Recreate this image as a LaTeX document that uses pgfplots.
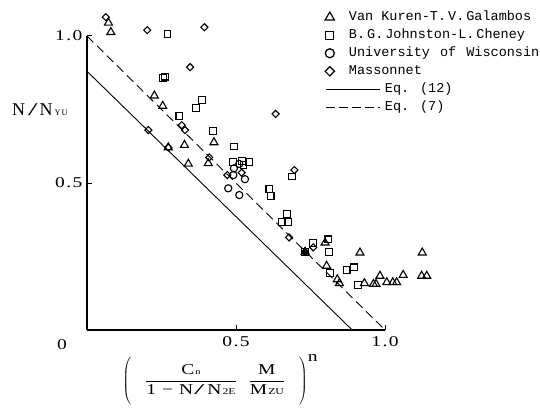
\documentclass[border=0pt]{standalone}
\usepackage{fontspec}
\usepackage{graphicx}
\setmainfont{Liberation Serif}
\newfontfamily\wideserif[FakeStretch=1.3]{Liberation Serif}
\newfontfamily\legendfont{Liberation Mono}
\usepackage{pgfplots}
\pgfplotsset{compat=1.18}
\pgfplotsset{
  legmark/.style={legend image code/.code={\path (0pt,0pt) (25pt,0pt); \draw[##1] plot coordinates {(8pt,0pt)};}},
  legline/.style={legend image code/.code={\path (0pt,0pt) (25pt,0pt); \draw[##1, overlay] (4pt,0pt) -- (58pt,0pt);}},
}
\newcommand{\dotsep}{\hspace{1.5pt}.\hspace{1.5pt}}
\newcommand{\wideslash}{\scalebox{1.9}[1]{/}}

\begin{document}
\begin{tikzpicture}
\useasboundingbox (0,0) rectangle (540pt,407pt);
\begin{axis}[
  at={(87pt,77pt)}, anchor=origin,
  x=298pt, y=294pt,
  xmin=0, xmax=1, ymin=0, ymax=1,
  axis lines=left,
  axis line style={line width=1.4pt, -},
  clip=false,
  xtick={0.5,1}, xticklabels={0\dotsep5, 1\dotsep0},
  ytick={0.5,1}, yticklabels={0\dotsep5, 1\dotsep0},
  tick align=inside, major tick length=5pt,
  tick style={line width=1pt, black},
  ticklabel style={font=\wideserif\fontsize{15}{15}\selectfont},
  xticklabel style={yshift=-3pt},
  yticklabel style={xshift=-1pt},
  every axis plot/.append style={line width=1.1pt},
  legend style={at={(axis cs:0.775,1.095)}, anchor=north west, draw=none, fill=none,
    font=\legendfont\fontsize{13.5}{13.5}\selectfont, row sep=4pt,
    nodes={inner sep=1.5pt, text height=9pt, text depth=2pt}},
  legend cell align=left,
]

% Eq. (12) and Eq. (7)
\addplot[black, line width=0.9pt, forget plot] coordinates {(0,0.88) (0.89,0)};
\addplot[black, line width=0.9pt, dash pattern=on 9pt off 5pt, forget plot] coordinates {(0,1) (1,0)};

% Van Kuren - T. V. Galambos
\addplot[only marks, mark=triangle, mark size=4.6pt, forget plot] coordinates {
 (0.072,1.045) (0.080,1.013) (0.226,0.797) (0.254,0.762) (0.273,0.621)
 (0.327,0.629) (0.426,0.638) (0.340,0.565) (0.407,0.567) (0.799,0.297)
 (0.916,0.263) (0.804,0.218) (0.840,0.172) (0.847,0.159) (0.931,0.159)
 (0.961,0.156) (0.970,0.156) (0.983,0.184) (1.006,0.162) (1.026,0.162)
 (1.039,0.162) (1.061,0.187) (1.125,0.263) (1.123,0.184) (1.140,0.184)
};
\addplot[only marks, mark=triangle*, mark size=4.6pt, fill=black, forget plot] coordinates {(0.732,0.266)};

% B. G. Johnston - L. Cheney
\addplot[only marks, mark=square, mark size=3.4pt, forget plot] coordinates {
 (0.270,1.007) (0.262,0.862) (0.254,0.858) (0.385,0.782) (0.366,0.754)
 (0.310,0.729) (0.422,0.678) (0.493,0.624) (0.489,0.572) (0.519,0.576)
 (0.545,0.572) (0.525,0.561) (0.612,0.479) (0.616,0.456) (0.687,0.522)
 (0.670,0.395) (0.653,0.368) (0.676,0.368) (0.759,0.297) (0.810,0.308)
 (0.813,0.266) (0.815,0.195) (0.871,0.204) (0.896,0.213) (0.910,0.153)
 (0.732,0.266)
};

% University of Wisconsin
\addplot[only marks, mark=o, mark size=3.6pt, forget plot] coordinates {
 (0.493,0.550) (0.511,0.565) (0.491,0.527) (0.530,0.513) (0.474,0.482)
 (0.511,0.459)
};

% Massonnet
\addplot[only marks, mark=square, mark size=2.5pt, mark options={rotate=45}, forget plot] coordinates {
 (0.063,1.064) (0.202,1.020) (0.394,1.030) (0.346,0.894) (0.318,0.697)
 (0.329,0.680) (0.206,0.680) (0.273,0.621) (0.410,0.587) (0.471,0.527)
 (0.519,0.535) (0.633,0.735) (0.696,0.544) (0.678,0.315) (0.759,0.281)
 (0.732,0.266)
};

% legend
\addlegendimage{only marks, mark=triangle, mark size=5.3pt, line width=1.2pt, legmark}
\addlegendentry{Van Kuren-T.\hspace{2pt}V.\hspace{2pt}Galambos}
\addlegendimage{only marks, mark=square, mark size=4pt, line width=1.2pt, legmark}
\addlegendentry{B.\hspace{2pt}G.\hspace{2pt}Johnston-L.\hspace{2pt}Cheney}
\addlegendimage{only marks, mark=o, mark size=4.5pt, line width=1.3pt, legmark}
\addlegendentry{University\hspace{2pt} of\hspace{2pt} Wisconsin}
\addlegendimage{only marks, mark=square, mark size=3.3pt, mark options={rotate=45}, line width=1.2pt, legmark}
\addlegendentry{Massonnet}
\addlegendimage{black, line width=0.8pt, legline}
\addlegendentry{\hspace{36pt}Eq. (12)}
\addlegendimage{black, line width=0.8pt, dash pattern=on 9pt off 4pt, legline}
\addlegendentry{\hspace{36pt}Eq. (7)}

% axis labels
\node[font=\wideserif\fontsize{15}{15}\selectfont] at (axis cs:-0.084,-0.051) {0};
\node[font=\fontsize{18}{18}\selectfont] at (axis cs:-0.158,0.748)
  {N\hspace{3pt}\wideslash\hspace{2pt}N\hspace{2pt}{\fontsize{8.5}{8.5}\selectfont Y\hspace{1pt}U}};
\node[font=\wideserif\fontsize{15}{18}\selectfont, anchor=center] at (axis cs:0.447,-0.17)
  {$\left(\vrule height 25pt depth 21pt width 0pt\hspace{14pt}\displaystyle
   \frac{\mbox{C{\fontsize{8}{8}\selectfont\hspace{1pt}n}}}{\mbox{1\hspace{6pt}−\hspace{6pt}N\hspace{1pt}\wideslash\hspace{3pt}N{\fontsize{9}{9}\selectfont\hspace{1pt}2E}}}
   \hspace{12pt}
   \frac{\mbox{M}}{\mbox{M\hspace{1pt}{\fontsize{9}{9}\selectfont ZU}}}\hspace{14pt}\right)^{\mbox{\fontsize{15}{15}\selectfont n}}$};
\end{axis}
\end{tikzpicture}
\end{document}
